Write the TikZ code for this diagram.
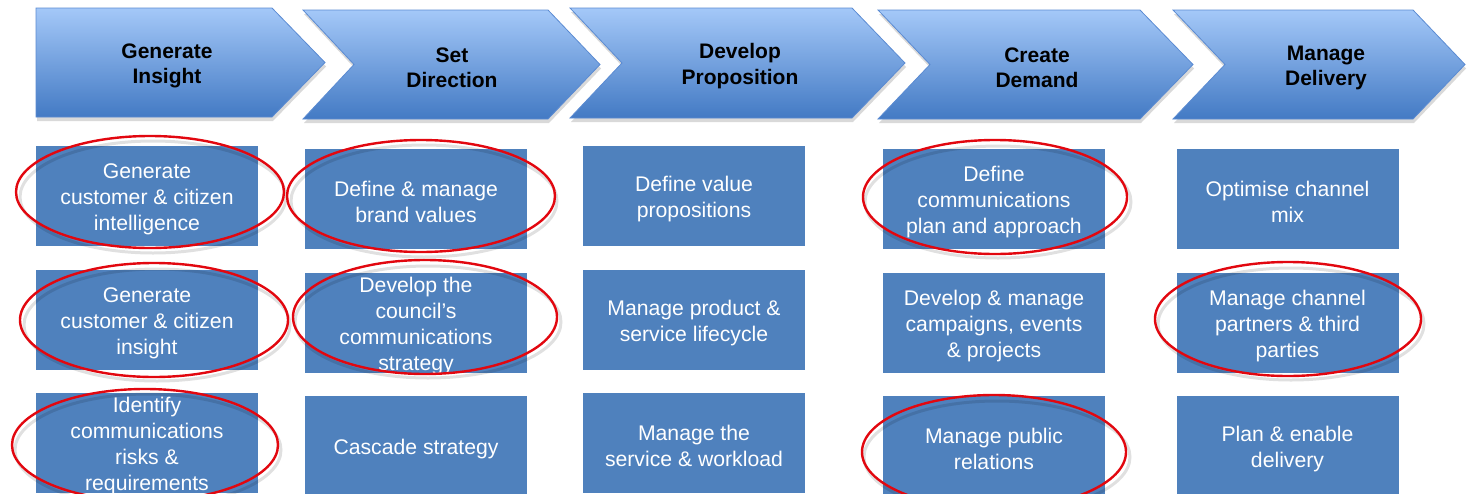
\documentclass[tikz,border=0pt]{standalone}
\usepackage{fontspec}
\setmainfont{Liberation Sans}
\usetikzlibrary{shadows}
\definecolor{boxblue}{HTML}{4F81BD}
\definecolor{chevtop}{HTML}{A4C8F8}
\definecolor{chevbot}{HTML}{437AC4}
\definecolor{chevline}{HTML}{5B8BD2}
\definecolor{ellred}{HTML}{E2070F}
\begin{document}
\begin{tikzpicture}[x=1pt,y=-1pt,
  chev/.style={top color=chevtop, bottom color=chevbot, draw=chevline, line width=0.8pt,
    drop shadow={shadow xshift=1pt, shadow yshift=-4pt, opacity=0.25, fill=black!60}},
  head/.style={font=\fontsize{21}{25.5}\selectfont\bfseries, align=center, text=black, inner sep=0pt, yshift=-2pt},
  cell/.style={fill=boxblue, minimum width=222pt, minimum height=100pt, inner sep=0pt},
  celltext/.style={font=\fontsize{21.2}{25.8}\selectfont, align=center, text=white, inner sep=0pt, yshift=-3pt},
  ring/.style={draw=ellred, line width=2.4pt},
  ringshadow/.style={draw=black, opacity=0.12, line width=3pt}
]
\useasboundingbox (0,0) rectangle (1468,493);

% chevrons
\path[chev] (36,8) -- (272,8) -- (325,62.5) -- (272,117) -- (36,117) -- cycle;
\path[chev] (303,10) -- (548,10) -- (600,64.5) -- (548,119) -- (303,119) -- (354,64.5) -- cycle;
\path[chev] (570,8) -- (852,8) -- (905,63) -- (852,118) -- (570,118) -- (622,63) -- cycle;
\path[chev] (878,10) -- (1140,10) -- (1193,64.5) -- (1140,119) -- (878,119) -- (930,64.5) -- cycle;
\path[chev] (1173,10) -- (1413,10) -- (1465,64.5) -- (1413,119) -- (1173,119) -- (1225,64.5) -- cycle;

\node[head] (h1) at (167,64) {Generate\\Insight};
\node[head] (h2) at (452,66) {Set\\Direction};
\node[head] (h3) at (740,64) {Develop\\Proposition};
\node[head] (h4) at (1037,66) {Create\\Demand};
\node[head] (h5) at (1326,66) {Manage\\Delivery};

% boxes column 1
\node[cell] (b11) at (147,196) {};
\node[cell] (b12) at (147,320) {};
\node[cell] (b13) at (147,443) {};
% column 2
\node[cell] (b21) at (416,199) {};
\node[cell] (b22) at (416,323) {};
\node[cell] (b23) at (416,446) {};
% column 3
\node[cell] (b31) at (694,196) {};
\node[cell] (b32) at (694,320) {};
\node[cell] (b33) at (694,443) {};
% column 4
\node[cell] (b41) at (994,199) {};
\node[cell] (b42) at (994,323) {};
\node[cell] (b43) at (994,446) {};
% column 5
\node[cell] (b51) at (1287.5,199) {};
\node[cell] (b52) at (1287.5,323) {};
\node[cell] (b53) at (1287.5,446) {};

\node[celltext] (t11) at (b11) {Generate\\customer \& citizen\\intelligence};
\node[celltext] (t12) at (b12) {Generate\\customer \& citizen\\insight};
\node[celltext] (t13) at (b13) {Identify\\communications\\risks \&\\requirements};
\node[celltext] (t21) at (b21) {Define \& manage\\brand values};
\node[celltext] (t22) at (b22) {Develop the\\council’s\\communications\\strategy};
\node[celltext] (t23) at (b23) {Cascade strategy};
\node[celltext] (t31) at (b31) {Define value\\propositions};
\node[celltext] (t32) at (b32) {Manage product \&\\service lifecycle};
\node[celltext] (t33) at (b33) {Manage the\\service \& workload};
\node[celltext] (t41) at (b41) {Define\\communications\\plan and approach};
\node[celltext] (t42) at (b42) {Develop \& manage\\campaigns, events\\\& projects};
\node[celltext] (t43) at (b43) {Manage public\\relations};
\node[celltext] (t51) at (b51) {Optimise channel\\mix};
\node[celltext] (t52) at (b52) {Manage channel\\partners \& third\\parties};
\node[celltext] (t53) at (b53) {Plan \& enable\\delivery};

% red ellipses with faint shadows
\foreach \cx/\cy in {150/192, 421/196, 154/320, 425/317, 145/445, 995/197, 1288/319, 994/452}{
  \draw[ringshadow] (\cx+3,\cy+5) ellipse [x radius=133pt, y radius=56pt];
}
\draw[ring] (150,192) ellipse [x radius=134pt, y radius=56pt];
\draw[ring] (421,196) ellipse [x radius=134pt, y radius=56pt];
\draw[ring] (154,320) ellipse [x radius=134pt, y radius=57pt];
\draw[ring] (425,317) ellipse [x radius=132pt, y radius=57pt];
\draw[ring] (145,445) ellipse [x radius=133pt, y radius=56pt];
\draw[ring] (995,197) ellipse [x radius=132pt, y radius=57pt];
\draw[ring] (1288,319) ellipse [x radius=133pt, y radius=57pt];
\draw[ring] (994,452) ellipse [x radius=132pt, y radius=57pt];
\end{tikzpicture}
\end{document}
